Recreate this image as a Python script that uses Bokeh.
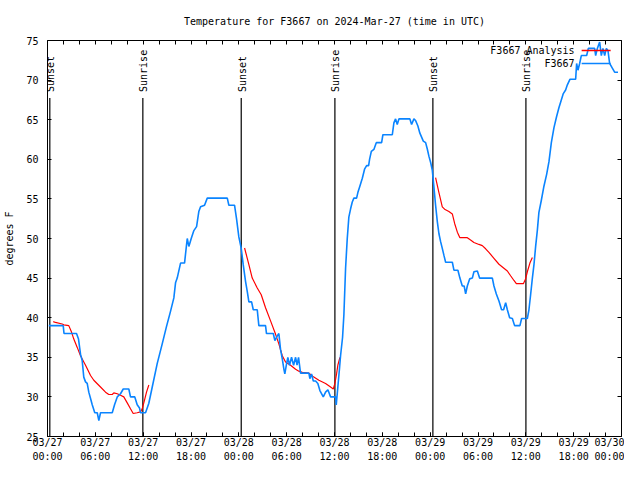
from bokeh.plotting import figure
from bokeh.models import Range1d, FixedTicker, LinearAxis
from bokeh.core.properties import value
from bokeh.embed import file_html
from bokeh.resources import INLINE

TITLE = "Temperature for F3667 on 2024-Mar-27 (time in UTC)"
Y_LABEL = "degrees F"
FONT = "DejaVu Sans Mono"

# x values: hours since 2024-03-27 00:00 UTC
tick_hours = [0, 6, 12, 18, 24, 30, 36, 42, 48, 54, 60, 66, 72]
minor_hours = list(range(0, 73, 2))
tick_dates = ["03/27"] * 4 + ["03/28"] * 4 + ["03/29"] * 4 + ["03/30"]
tick_times = ["00:00", "06:00", "12:00", "18:00"] * 3 + ["00:00"]
y_ticks = [25, 30, 35, 40, 45, 50, 55, 60, 65, 70, 75]

# Sunrise / sunset times (hours since 03/27 00:00 UTC)
sun_hours = [0.29, 11.96, 24.30, 36.05, 48.34, 60.01]
sun_labels = ["Sunset", "Sunrise", "Sunset", "Sunrise", "Sunset", "Sunrise"]

# F3667 observations
obs_hours = [0.16, 1.97, 2.07, 3.64, 3.89, 4.14, 4.35, 4.55, 4.77, 4.98, 5.18, 5.40, 5.61, 5.93,
             6.24, 6.44, 6.65, 8.12, 8.41, 8.75, 9.16, 9.50, 10.20, 10.41, 10.95, 11.25, 11.54,
             11.67, 12.30, 12.71, 13.14, 13.76, 14.39, 14.93, 15.43, 15.85, 16.06, 16.27, 16.69,
             17.19, 17.44, 17.53, 17.73, 18.03, 18.36, 18.70, 18.98, 19.20, 19.70, 20.04, 22.55,
             22.75, 23.46, 23.71, 24.00, 24.30, 24.55, 24.84, 25.06, 25.26, 25.60, 25.81, 26.31,
             26.51, 27.35, 27.47, 28.32, 28.52, 28.82, 29.02, 29.23, 29.45, 29.65, 29.77, 29.99,
             30.15, 30.36, 30.61, 30.87, 31.12, 31.30, 31.49, 31.74, 32.79, 32.91, 33.12, 33.34,
             33.63, 33.91, 34.17, 34.59, 34.88, 35.17, 35.51, 36.14, 36.22, 36.42, 36.64, 36.76,
             37.01, 37.18, 37.39, 37.60, 37.80, 38.02, 38.23, 38.43, 38.77, 38.93, 39.18, 39.49,
             39.77, 40.03, 40.28, 40.40, 40.62, 40.94, 41.24, 41.91, 42.07, 43.25, 43.45, 43.66,
             43.87, 44.08, 45.46, 45.67, 45.96, 46.17, 46.46, 46.71, 47.14, 47.43, 47.64, 47.84,
             48.06, 48.27, 48.47, 48.68, 48.90, 49.10, 49.31, 49.52, 49.72, 49.94, 50.78, 50.98,
             51.48, 51.73, 52.03, 52.26, 52.45, 52.66, 52.95, 53.29, 53.49, 53.92, 54.20, 55.80,
             56.00, 56.30, 56.63, 56.96, 57.21, 57.47, 57.68, 57.97, 58.31, 58.59, 59.26, 59.47,
             60.19, 60.39, 60.60, 60.82, 61.02, 61.23, 61.44, 61.64, 61.94, 62.27, 62.61, 62.90,
             63.20, 63.53, 63.86, 64.15, 64.45, 64.70, 64.99, 65.21, 65.53, 66.25, 66.37, 66.54,
             66.75, 66.96, 67.63, 67.84, 68.63, 68.76, 68.97, 69.26, 69.47, 69.67, 69.89, 70.10,
             70.30, 70.51, 70.85, 71.14, 71.56]
obs_temp = [39.0, 39.0, 38.0, 38.0, 37.3, 35.4, 34.6, 32.5, 31.9, 31.7, 30.6, 29.8, 29.0, 28.0,
            28.0, 27.0, 28.0, 28.0, 29.0, 30.0, 30.4, 31.0, 31.0, 30.0, 30.0, 29.0, 28.6,
            28.0, 28.0, 29.2, 31.25, 34.2, 36.7, 38.9, 40.8, 42.5, 44.4, 45.0, 46.9,
            46.9, 49.2, 50.0, 49.0, 50.0, 51.0, 51.5, 53.4, 54.0, 54.2, 55.1, 55.1,
            54.2, 54.2, 52.5, 50.2, 48.75, 46.7, 44.6, 43.3, 42.0, 42.0, 41.0, 41.0,
            39.0, 39.0, 38.0, 38.0, 37.1, 37.7, 38.0, 36.0, 34.8, 33.5, 32.9, 34.2,
            35.0, 34.0, 35.0, 34.0, 35.0, 34.0, 35.0, 33.0, 33.0, 32.3, 32.9, 32.0,
            32.0, 31.7, 30.8, 30.0, 30.6, 30.9, 30.0, 30.0, 29.0, 31.25, 33.75, 35.2,
            37.5, 40.4, 46.25, 50.0, 52.7, 53.75, 54.6, 55.1, 55.1, 55.8, 56.6, 57.6,
            58.75, 59.2, 59.2, 60.0, 61.0, 61.25, 62.1, 62.1, 63.1, 63.1, 64.6, 65.1,
            64.4, 65.1, 65.1, 64.4, 65.1, 64.9, 64.2, 63.3, 62.3, 62.1, 61.3, 60.4,
            59.6, 58.6, 56.5, 54.2, 52.1, 50.6, 49.6, 48.75, 47.9, 47.0, 47.0, 46.0,
            46.0, 45.0, 44.0, 44.0, 43.0, 44.0, 44.9, 45.0, 45.8, 45.9, 45.0, 45.0,
            44.0, 43.0, 42.1, 41.0, 41.0, 41.9, 41.0, 40.0, 39.9, 39.0, 39.0, 39.9,
            39.9, 41.0, 42.9, 45.0, 46.7, 49.0, 51.0, 53.3, 54.8, 56.6, 58.1, 59.7,
            62.1, 64.0, 65.4, 66.5, 67.5, 68.3, 68.75, 69.4, 70.1, 70.1, 72.1, 71.25,
            72.1, 73.1, 73.1, 74.0, 74.0, 73.1, 74.0, 74.8, 73.1, 74.0, 73.1, 74.0,
            73.75, 72.1, 71.5, 71.0, 71.0]

# F3667 Analysis (three overnight runs)
ana1_hours = [0.72, 1.00, 1.84, 2.05, 2.67, 2.97, 3.30, 3.73, 4.14, 4.77, 5.40, 5.81, 6.65, 7.28,
              7.69, 8.12, 8.32, 8.75, 9.16, 9.57, 10.00, 10.41, 10.75, 11.25, 11.67, 11.88,
              12.17, 12.42, 12.71]
ana1_temp = [39.5, 39.4, 39.2, 39.1, 39.0, 38.3, 37.3, 36.25, 35.2, 34.0, 32.7, 32.1, 31.25, 30.6,
             30.3, 30.3, 30.5, 30.4, 30.2, 30.0, 29.25, 28.5, 27.9, 28.0, 28.1, 28.5,
             29.6, 30.6, 31.5]
ana2_hours = [24.72, 25.26, 25.68, 26.31, 26.81, 27.35, 27.98, 28.61, 29.02, 29.45, 29.86, 30.49,
              31.12, 31.53, 31.96, 32.79, 33.41, 34.04, 34.88, 35.51, 35.85, 36.05, 36.26, 36.42,
              36.68]
ana2_temp = [48.8, 46.7, 45.0, 43.75, 42.9, 41.25, 39.6, 37.9, 36.7, 35.2, 34.4, 34.0,
             33.5, 33.25, 33.1, 33.0, 32.5, 32.1, 31.7, 31.25, 31.0, 31.7, 32.9, 34.0,
             35.0]
ana3_hours = [48.68, 49.10, 49.52, 49.81, 50.35, 50.78, 51.07, 51.41, 51.73, 52.66, 53.07, 53.49,
              54.12, 54.54, 54.96, 55.37, 56.00, 56.63, 57.25, 57.68, 58.09, 58.51, 58.81, 59.69,
              59.97, 60.19, 60.51, 60.82]
ana3_temp = [57.7, 55.8, 54.0, 53.7, 53.4, 53.1, 51.9, 50.8, 50.1, 50.1, 49.8, 49.5,
             49.25, 49.1, 48.7, 48.25, 47.5, 46.75, 46.25, 45.9, 45.3, 44.7, 44.3, 44.3,
             44.9, 45.8, 46.9, 47.6]

BLUE = "#0a84ff"
RED = "#ff0000"

p = figure(width=624, height=464, x_range=Range1d(0, 72), y_range=Range1d(25, 75),
           output_backend="svg", toolbar_location=None,
           min_border_left=47, min_border_right=3, min_border_top=40, min_border_bottom=24)
p.title.text = TITLE
p.title.align = "center"
p.title.text_font = FONT
p.title.text_font_size = "10px"
p.title.text_font_style = "normal"
p.title.text_color = "black"
p.title.standoff = 27
p.grid.visible = False
p.outline_line_color = "black"
p.outline_line_width = 1
p.background_fill_color = "white"
p.border_fill_color = "white"

# bottom axis 1: tick marks + date line of the labels
xa = p.xaxis[0]
xa.ticker = FixedTicker(ticks=tick_hours, minor_ticks=minor_hours)
xa.major_label_overrides = {h: d for h, d in zip(tick_hours, tick_dates)}
xa.axis_line_color = None
xa.major_tick_in = 4
xa.major_tick_out = 0
xa.minor_tick_in = 4
xa.minor_tick_out = 0
xa.major_tick_line_color = "black"
xa.minor_tick_line_color = "black"
xa.major_label_standoff = 0
xa.major_label_text_font = FONT
xa.major_label_text_font_size = "10px"
xa.major_label_text_color = "black"

# bottom axis 2: time line of the labels
xb = LinearAxis(ticker=FixedTicker(ticks=tick_hours),
                major_label_overrides={h: t for h, t in zip(tick_hours, tick_times)},
                axis_line_color=None, major_tick_in=0, major_tick_out=0,
                minor_tick_in=0, minor_tick_out=0, major_label_standoff=0,
                major_label_text_font=FONT, major_label_text_font_size="10px",
                major_label_text_color="black")
p.add_layout(xb, "below")

ya = p.yaxis[0]
ya.ticker = FixedTicker(ticks=y_ticks)
ya.axis_line_color = None
ya.major_tick_in = 4
ya.major_tick_out = 0
ya.minor_tick_in = 0
ya.minor_tick_out = 0
ya.major_tick_line_color = "black"
ya.major_label_text_font = FONT
ya.major_label_text_font_size = "10px"
ya.major_label_text_color = "black"
ya.major_label_standoff = 9
ya.axis_label = Y_LABEL
ya.axis_label_standoff = 8
ya.axis_label_text_font = FONT
ya.axis_label_text_font_size = "10px"
ya.axis_label_text_font_style = "normal"
ya.axis_label_text_color = "black"

# mirrored tick marks on the top and right edges
top = LinearAxis(ticker=FixedTicker(ticks=[], minor_ticks=minor_hours), axis_line_color=None,
                 minor_tick_in=4, minor_tick_out=0, major_tick_in=0, major_tick_out=0,
                 minor_tick_line_color="black")
right = LinearAxis(ticker=FixedTicker(ticks=[], minor_ticks=y_ticks), axis_line_color=None,
                   minor_tick_in=4, minor_tick_out=0, major_tick_in=0, major_tick_out=0,
                   minor_tick_line_color="black")
p.add_layout(top, "above")
p.add_layout(right, "right")

# sunrise / sunset markers
sun_top = 67.75
p.segment(x0=sun_hours, y0=[25] * len(sun_hours), x1=sun_hours, y1=[sun_top] * len(sun_hours),
          line_color="black", line_width=1.2)
p.text(x=sun_hours, y=[68.5] * len(sun_hours), text=sun_labels, angle=1.5708,
       text_align="left", text_baseline="middle", x_offset=1,
       text_font=value(FONT), text_font_size="10px", text_color="black")

# series
for hh, tt in ((ana1_hours, ana1_temp), (ana2_hours, ana2_temp), (ana3_hours, ana3_temp)):
    p.line(hh, tt, line_color=RED, line_width=1.2)
p.line(obs_hours, obs_temp, line_color=BLUE, line_width=1.6)

# legend (gnuplot style: text, then sample line to the right)
leg_text_x = 66.12
leg_x0, leg_x1 = 67.0, 70.64
leg_rows = [("F3667 Analysis", RED, 73.75), ("F3667", BLUE, 72.1)]
for name, col, yy in leg_rows:
    p.text(x=[leg_text_x], y=[yy], text=[name], text_align="right", text_baseline="middle",
           text_font=value(FONT), text_font_size="10px", text_color="black")
    p.line([leg_x0, leg_x1], [yy, yy], line_color=col, line_width=1.5)

open("out.html", "w").write(file_html(p, INLINE))
